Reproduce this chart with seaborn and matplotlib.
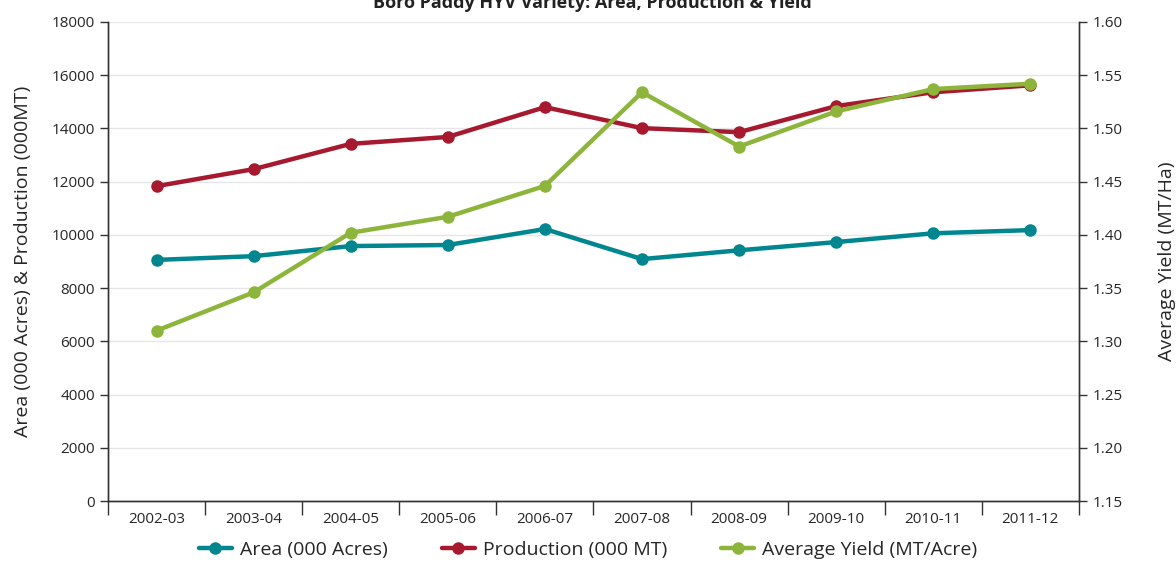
import matplotlib
matplotlib.use("Agg")
import matplotlib.pyplot as plt
import seaborn as sns
import pandas as pd
import numpy as np

years = ["2002-03", "2003-04", "2004-05", "2005-06", "2006-07",
         "2007-08", "2008-09", "2009-10", "2010-11", "2011-12"]
area = [9060, 9200, 9580, 9620, 10220, 9090, 9420, 9730, 10060, 10180]
production = [11830, 12470, 13420, 13680, 14800, 14010, 13860, 14840, 15360, 15620]
avg_yield = [1.310, 1.346, 1.402, 1.417, 1.446, 1.534, 1.483, 1.516, 1.537, 1.542]

sns.set_theme(style="white")
plt.rcParams['font.family'] = ['Open Sans', 'DejaVu Sans']

c_area = "#00868F"
c_prod = "#A6192E"
c_yield = "#8DB53C"

df = pd.DataFrame({"pos": np.arange(len(years)), "area": area,
                   "production": production, "yield": avg_yield})

fig = plt.figure(figsize=(11.76, 5.62), dpi=100)
ax = fig.add_axes([0.0918, 0.1085, 0.8257, 0.8524])
ax2 = ax.twinx()

lw = 3.2
ms = 9
sns.lineplot(data=df, x="pos", y="area", ax=ax, color=c_area, lw=lw,
             marker="o", markersize=ms, markeredgewidth=0, label="Area (000 Acres)", legend=False)
sns.lineplot(data=df, x="pos", y="production", ax=ax, color=c_prod, lw=lw,
             marker="o", markersize=ms, markeredgewidth=0, label="Production (000 MT)", legend=False)
sns.lineplot(data=df, x="pos", y="yield", ax=ax2, color=c_yield, lw=lw,
             marker="o", markersize=ms, markeredgewidth=0, label="Average Yield (MT/Acre)", legend=False)

ax.set_ylim(0, 18000)
ax.set_yticks(np.arange(0, 18001, 2000))
ax2.set_ylim(1.15, 1.60)
ax2.set_yticks(np.arange(1.15, 1.601, 0.05))
ax2.set_yticklabels([f"{v:.2f}" for v in np.arange(1.15, 1.601, 0.05)])

ax.set_xlim(-0.5, len(years) - 0.5)
ax.set_xticks(np.arange(-0.5, len(years), 1.0))
ax.set_xticklabels([])
ax.set_xticks(np.arange(len(years)), minor=True)
ax.set_xticklabels(years, minor=True)
ax.tick_params(axis="x", which="major", length=10, width=1, color="#333333", direction="out", bottom=True)
ax.tick_params(axis="x", which="minor", length=0, labelsize=11, pad=8, bottom=True)
ax.tick_params(axis="y", length=6, width=1, color="#333333", direction="out", labelsize=11, left=True)
ax2.tick_params(axis="y", length=6, width=1, color="#333333", direction="out", labelsize=11, right=True)

ax.yaxis.grid(True, color="#e6e6e6", lw=1)
ax.set_axisbelow(True)
for a in (ax, ax2):
    a.spines["top"].set_visible(False)
    for s in ("left", "right", "bottom"):
        a.spines[s].set_color("#333333")
        a.spines[s].set_linewidth(1)
ax.set_xlabel("")
ax.set_ylabel("Area (000 Acres) & Production (000MT)", fontsize=14, labelpad=14)
ax2.set_ylabel("Average Yield (MT/Ha)", fontsize=14, labelpad=26)

fig.text(0.504, 0.995, "Boro Paddy HYV Variety: Area, Production & Yield",
         ha="center", va="center", fontsize=13, fontweight="bold", color="#222222")

h1, l1 = ax.get_legend_handles_labels()
h2, l2 = ax2.get_legend_handles_labels()
fig.legend(h1 + h2, l1 + l2, loc="center", bbox_to_anchor=(0.5, 0.022), ncol=3,
           frameon=False, fontsize=14, handlelength=1.7, columnspacing=2.8, handletextpad=0.4)

fig.savefig("out.png", dpi=100)
